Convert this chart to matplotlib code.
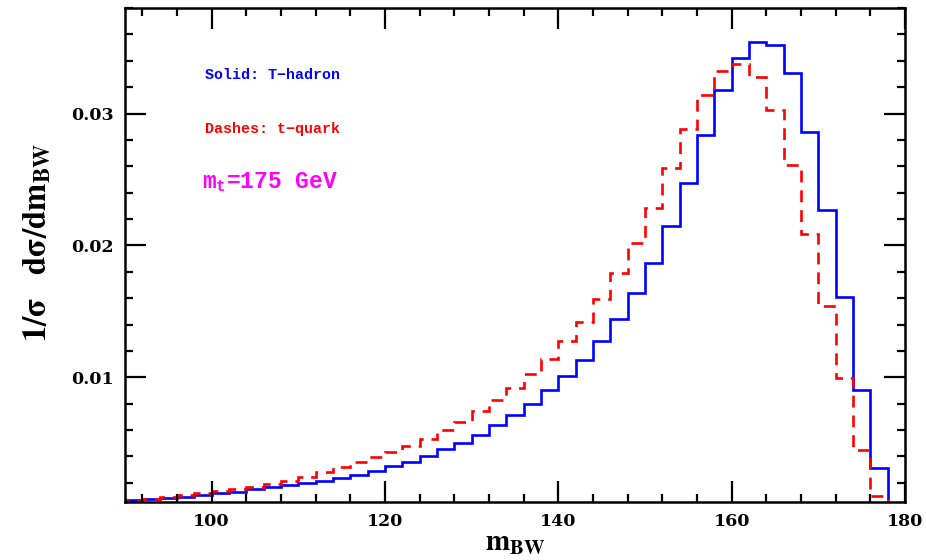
import numpy as np
import matplotlib.pyplot as plt
from matplotlib.ticker import MultipleLocator, FixedLocator

# bin edges of m_BW (GeV), 2 GeV bins
edges = np.arange(90, 180, 2)

# solid: T-hadron
hadron = [0.00068, 0.00076, 0.00088, 0.00096, 0.00108, 0.00121, 0.00134, 0.00152,
          0.00167, 0.00182, 0.00200, 0.00216, 0.00238, 0.00263, 0.00290, 0.00326,
          0.00361, 0.00404, 0.00457, 0.00502, 0.00566, 0.00636, 0.00712, 0.00798,
          0.00902, 0.01008, 0.01134, 0.01275, 0.01440, 0.01636, 0.01866, 0.02144,
          0.02475, 0.02838, 0.03182, 0.03424, 0.03540, 0.03523, 0.03308, 0.02859,
          0.02270, 0.01610, 0.00902, 0.00316]

# dashes: t-quark
quark = [0.00060, 0.00078, 0.00090, 0.00105, 0.00120, 0.00137, 0.00153, 0.00172,
         0.00193, 0.00216, 0.00243, 0.00280, 0.00320, 0.00361, 0.00399, 0.00434,
         0.00480, 0.00535, 0.00598, 0.00662, 0.00742, 0.00826, 0.00922, 0.01022,
         0.01142, 0.01273, 0.01422, 0.01593, 0.01788, 0.02020, 0.02287, 0.02585,
         0.02884, 0.03144, 0.03320, 0.03373, 0.03275, 0.03025, 0.02611, 0.02090,
         0.01540, 0.00992, 0.00450, 0.00101]

y_ticks = [0.01, 0.02, 0.03]
y_tick_labels = ["0.01", "0.02", "0.03"]
x_ticks = [100, 120, 140, 160, 180]

plt.rcParams["mathtext.fontset"] = "custom"
plt.rcParams["mathtext.bf"] = "Liberation Mono:bold"
plt.rcParams["mathtext.rm"] = "Liberation Mono:bold"
plt.rcParams["mathtext.it"] = "Liberation Mono:bold"


def main() -> None:
    fig = plt.figure(figsize=(9.26, 5.6), dpi=100)
    ax = fig.add_axes([0.135, 0.1036, 0.8423, 0.882])

    ax.stairs(hadron, edges, baseline=0, color="#0000ff", lw=1.9)
    ax.stairs(quark, edges, baseline=0, color="#ff0000", lw=1.9,
              linestyle=(0, (4.5, 3)))

    ax.set_xlim(90, 180)
    ax.set_ylim(0.00055, 0.038)

    ax.xaxis.set_major_locator(FixedLocator(x_ticks))
    ax.xaxis.set_minor_locator(MultipleLocator(4))
    ax.yaxis.set_major_locator(FixedLocator(y_ticks))
    ax.yaxis.set_minor_locator(MultipleLocator(0.002))
    ax.set_yticklabels(y_tick_labels)

    ax.tick_params(which="both", direction="in", top=True, right=True,
                   width=1.6, color="black")
    ax.tick_params(which="major", length=15, pad=8, labelsize=12.5)
    ax.tick_params(which="minor", length=5.5)
    for lab in ax.get_xticklabels() + ax.get_yticklabels():
        lab.set_family("DejaVu Serif")
        lab.set_fontweight("bold")
    for sp in ax.spines.values():
        sp.set_linewidth(1.8)

    ax.set_xlabel(r"$\mathbf{m_{BW}}$", fontsize=21, math_fontfamily="stix",
                  labelpad=-1)
    ax.set_ylabel(r"$\mathbf{1/\sigma\ \ \ d\sigma/dm_{BW}}$", fontsize=23.5,
                  math_fontfamily="stix")
    ax.yaxis.set_label_coords(-0.092, 0.525)

    ax.text(99.2, 0.03295, "Solid: T\u2212hadron", color="#0000ff",
            family="Liberation Mono", fontweight="bold", fontsize=10.8,
            va="center")
    ax.text(99.2, 0.02886, "Dashes: t\u2212quark", color="#ff0000",
            family="Liberation Mono", fontweight="bold", fontsize=10.8,
            va="center")
    ax.text(98.9, 0.0248, r"$\mathbf{m_t}$=175 GeV", color="#ff00ff",
            family="Liberation Mono", fontweight="bold", fontsize=16.5,
            va="center")

    fig.savefig("out.png", dpi=100)


if __name__ == "__main__":
    main()
